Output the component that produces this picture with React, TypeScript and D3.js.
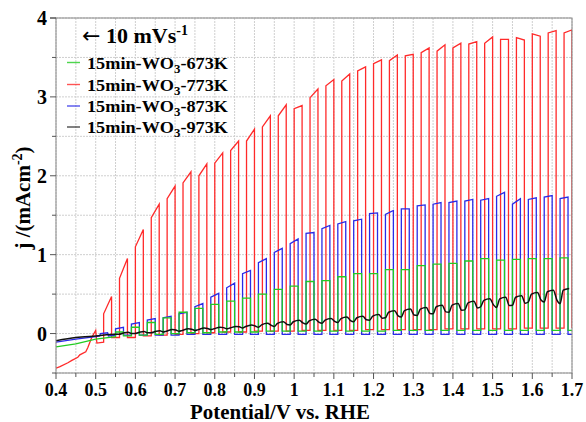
import React from 'react';
import * as d3 from 'd3';

// chopped-light LSV, light on for PW volts per chop
const PW = 0.02;

const redOn = [0.52, 0.56, 0.60, 0.64, 0.68, 0.72, 0.76, 0.80, 0.84, 0.88, 0.92, 0.96, 1.00, 1.04, 1.08,
  1.12, 1.16, 1.20, 1.24, 1.28, 1.32, 1.36, 1.40, 1.44, 1.48, 1.52, 1.56, 1.60, 1.64, 1.68];
const redStart = [0.25, 0.70, 1.10, 1.47, 1.71, 1.91, 2.00, 2.16, 2.32, 2.44, 2.62, 2.76, 2.85, 2.99, 3.14,
  3.20, 3.33, 3.42, 3.46, 3.52, 3.56, 3.58, 3.62, 3.67, 3.68, 3.73, 3.75, 3.80, 3.81, 3.81];
const redEnd = [0.47, 0.95, 1.32, 1.64, 1.87, 2.05, 2.15, 2.29, 2.44, 2.59, 2.76, 2.90, 2.89, 3.10, 3.22,
  3.29, 3.38, 3.47, 3.53, 3.54, 3.62, 3.66, 3.68, 3.70, 3.76, 3.73, 3.72, 3.77, 3.84, 3.85];
const redDark = [-0.05, -0.05, -0.03, -0.02, -0.01, 0.0, 0.01, 0.02, 0.02, 0.03, 0.03, 0.03, 0.04, 0.04, 0.04,
  0.04, 0.05, 0.05, 0.05, 0.05, 0.05, 0.06, 0.06, 0.06, 0.06, 0.06, 0.07, 0.07, 0.07, 0.07];
const redPre: [number, number][] = [[0.40, -0.44], [0.41, -0.42], [0.43, -0.37], [0.44, -0.34], [0.455, -0.30],
  [0.46, -0.27], [0.475, -0.23], [0.48, -0.18], [0.49, -0.05], [0.50, 0.04], [0.503, -0.12], [0.52, -0.11]];

const chopOn = [0.55, 0.59, 0.63, 0.67, 0.71, 0.75, 0.79, 0.83, 0.87, 0.91, 0.95, 0.99, 1.03, 1.07, 1.11,
  1.15, 1.19, 1.23, 1.27, 1.31, 1.35, 1.39, 1.43, 1.47, 1.51, 1.55, 1.59, 1.63, 1.67];

const blueStart = [0.06, 0.12, 0.17, 0.20, 0.25, 0.34, 0.46, 0.58, 0.76, 0.90, 1.03, 1.14, 1.27, 1.33, 1.39,
  1.43, 1.52, 1.51, 1.58, 1.62, 1.64, 1.66, 1.68, 1.69, 1.74, 1.64, 1.70, 1.73, 1.71];
const blueEnd = [0.08, 0.14, 0.19, 0.22, 0.27, 0.38, 0.51, 0.64, 0.80, 0.95, 1.08, 1.20, 1.28, 1.37, 1.42,
  1.45, 1.53, 1.56, 1.58, 1.63, 1.66, 1.68, 1.70, 1.71, 1.79, 1.71, 1.72, 1.75, 1.73];
const blueDark = [-0.02, -0.02, -0.02, -0.02, -0.01, -0.01, -0.01, -0.01, -0.01, -0.01, -0.01, -0.01, -0.01, -0.01, -0.01,
  -0.01, -0.01, -0.01, -0.01, -0.01, -0.01, -0.01, -0.01, -0.01, -0.01, -0.01, -0.01, -0.01, -0.01];
const bluePre: [number, number][] = [[0.40, -0.11], [0.45, -0.07], [0.50, -0.04], [0.51, -0.03], [0.512, 0.0],
  [0.53, 0.01], [0.532, -0.03], [0.55, -0.02]];

const greenLight = [0.02, 0.08, 0.14, 0.20, 0.27, 0.32, 0.37, 0.41, 0.45, 0.50, 0.56, 0.60, 0.66, 0.67, 0.72,
  0.76, 0.76, 0.81, 0.81, 0.86, 0.88, 0.89, 0.92, 0.95, 0.93, 0.94, 0.95, 0.95, 0.96];
const greenDark = [-0.03, -0.02, -0.01, 0.0, 0.01, 0.01, 0.02, 0.02, 0.02, 0.03, 0.03, 0.03, 0.03, 0.03, 0.03,
  0.03, 0.03, 0.04, 0.04, 0.04, 0.04, 0.04, 0.04, 0.04, 0.04, 0.04, 0.04, 0.04, 0.04];
const greenPre: [number, number][] = [[0.40, -0.17], [0.45, -0.13], [0.50, -0.07], [0.55, -0.04]];

const blackDark = [-0.01, 0.0, 0.01, 0.02, 0.03, 0.04, 0.05, 0.06, 0.07, 0.08, 0.09, 0.11, 0.12, 0.13, 0.14,
  0.15, 0.17, 0.20, 0.21, 0.23, 0.25, 0.27, 0.30, 0.34, 0.33, 0.36, 0.40, 0.40, 0.38];
const blackLight = [0.01, 0.02, 0.03, 0.05, 0.06, 0.07, 0.08, 0.09, 0.11, 0.13, 0.15, 0.17, 0.18, 0.19, 0.21,
  0.22, 0.24, 0.29, 0.31, 0.33, 0.36, 0.38, 0.41, 0.44, 0.46, 0.48, 0.52, 0.55, 0.57];
const blackPre: [number, number][] = [[0.40, -0.09], [0.45, -0.05], [0.50, -0.03], [0.55, -0.01]];

const xTicks = [0.4, 0.5, 0.6, 0.7, 0.8, 0.9, 1.0, 1.1, 1.2, 1.3, 1.4, 1.5, 1.6, 1.7];
const yTicks = [0, 1, 2, 3, 4];

const legendItems = [
  { label: '673K', color: '#22cc22' },
  { label: '773K', color: '#ff2a2a' },
  { label: '873K', color: '#2a2ae8' },
  { label: '973K', color: '#222222' },
];

const left = 56, right = 572, top = 18, bottom = 373;
const x = d3.scaleLinear().domain([0.4, 1.7]).range([left, right]);
const y = d3.scaleLinear().domain([-0.5, 4]).range([bottom, top]);
const line = d3.line<[number, number]>().x(d => x(d[0])).y(d => y(d[1]));
const smooth = d3.line<[number, number]>().x(d => x(d[0])).y(d => y(d[1])).curve(d3.curveMonotoneX);

function chopPoints(pre: [number, number][], on: number[], start: number[], end: number[], dark: number[]) {
  const pts: [number, number][] = [...pre];
  on.forEach((v, k) => {
    const before = k === 0 ? pre[pre.length - 1][1] : dark[k - 1];
    pts.push([v, before], [v, start[k]], [v + PW, end[k]], [v + PW, dark[k]]);
  });
  pts.push([1.7, dark[dark.length - 1]]);
  return pts;
}

function blackPoints() {
  const pts: [number, number][] = [...blackPre];
  chopOn.forEach((v, k) => {
    pts.push([v, blackDark[k]], [v + 0.008, blackLight[k] - 0.02], [v + PW + 0.003, blackLight[k]]);
    if (v + PW + 0.012 < 1.7) pts.push([v + PW + 0.012, blackDark[k] + 0.025]);
  });
  return pts;
}

const font = 'Liberation Serif, Times New Roman, serif';

export default function App() {
  const xMinor = d3.range(0, 27).map(i => 0.4 + i * 0.05);
  const yMinor = d3.range(0, 10).map(i => -0.5 + i * 0.5);
  const series = [
    { pts: chopPoints(redPre, redOn, redStart, redEnd, redDark), color: '#ff2a2a' },
    { pts: chopPoints(bluePre, chopOn, blueStart, blueEnd, blueDark), color: '#2a2ae8' },
    { pts: chopPoints(greenPre, chopOn, greenLight, greenLight, greenDark), color: '#22cc22' },
  ];
  return (
    <svg width={586} height={422} style={{ position: 'absolute', left: 0, top: 0, background: '#fff' }}
      fontFamily={font} fontWeight="bold">
      <defs>
        <clipPath id="plot"><rect x={left} y={top} width={right - left} height={bottom - top} /></clipPath>
      </defs>
      {xMinor.map((v, i) => (
        <line key={'gx' + i} x1={x(v)} x2={x(v)} y1={top} y2={bottom} stroke="#cfcfcf" strokeDasharray="2,1" />
      ))}
      {yMinor.map((v, i) => (
        <line key={'gy' + i} x1={left} x2={right} y1={y(v)} y2={y(v)} stroke="#cfcfcf" strokeDasharray="2,1" />
      ))}
      <g clipPath="url(#plot)" fill="none" strokeWidth={1.3}>
        {series.map((s, i) => <path key={i} d={line(s.pts) || ''} stroke={s.color} />)}
        <path d={smooth(blackPoints()) || ''} stroke="#111" strokeWidth={1.5} />
      </g>
      <rect x={left} y={top} width={right - left} height={bottom - top} fill="none" stroke="#888" />
      {xMinor.map((v, i) => (
        <line key={'tx' + i} x1={x(v)} x2={x(v)} y1={bottom} y2={bottom + (i % 2 === 0 ? 6 : 4)} stroke="#555" />
      ))}
      {yMinor.concat([4]).map((v, i) => (
        <line key={'ty' + i} x1={left} x2={left - (Number.isInteger(v) ? 6 : 4)} y1={y(v)} y2={y(v)} stroke="#555" />
      ))}
      {xTicks.map(v => (
        <text key={'lx' + v} x={x(v)} y={396} textAnchor="middle" fontSize={18}>
          {String(+v.toFixed(1))}
        </text>
      ))}
      {yTicks.map(v => (
        <text key={'ly' + v} x={47} y={y(v) + 7} textAnchor="end" fontSize={20}>{v}</text>
      ))}
      <text x={280} y={419} textAnchor="middle" fontSize={20} textLength={180} lengthAdjust="spacingAndGlyphs">
        Potential/V vs. RHE
      </text>
      <text transform="translate(30,198) rotate(-90)" textAnchor="middle" fontSize={21}>
        j /(mAcm<tspan dy={-8} fontSize={14}>-2</tspan><tspan dy={8}>)</tspan>
      </text>
      <text x={82} y={43} fontSize={22}>
        <tspan fontFamily="DejaVu Sans, sans-serif" fontWeight="normal">←</tspan> 10 mVs<tspan dy={-8} fontSize={14}>-1</tspan>
      </text>
      {legendItems.map((d, i) => {
        const yy = [62.5, 84.5, 106, 127][i];
        return (
          <g key={d.label}>
            <line x1={67} x2={80} y1={yy} y2={yy} stroke={d.color} strokeWidth={1.4} opacity={0.8} />
            <text x={87} y={yy + 6} fontSize={17} textLength={141} lengthAdjust="spacingAndGlyphs">
              15min-WO<tspan dy={4} fontSize={12}>3</tspan><tspan dy={-4}>-{d.label}</tspan>
            </text>
          </g>
        );
      })}
    </svg>
  );
}
